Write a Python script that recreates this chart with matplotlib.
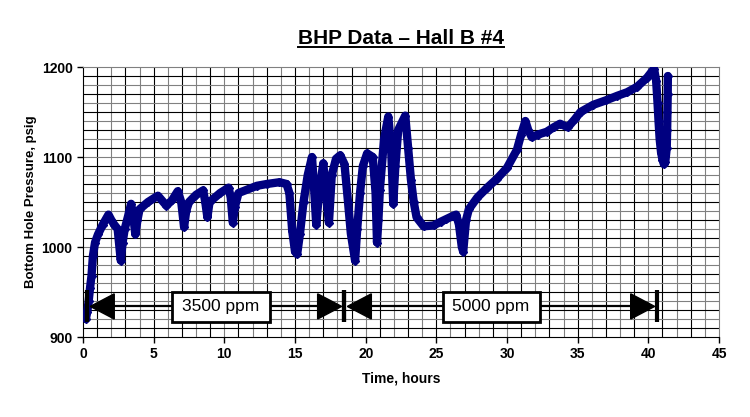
#!/usr/bin/env python
"""
Bottom hole pressure plot for Hall B #4.

Usage:
    python plot.py
"""

import matplotlib

matplotlib.use("Agg")
import matplotlib.pyplot as plt
from matplotlib.patches import Rectangle
import numpy as np

# Time (hours) and bottom hole pressure (psig)
hours = [
    0.1, 0.2, 0.3, 0.4, 0.5, 0.6, 0.7, 0.85, 1.06, 1.4, 1.8, 2.0, 2.2, 2.45,
    2.67, 2.8, 2.95, 3.2, 3.4, 3.55, 3.7, 3.85, 4.0, 4.6, 5.3, 5.9, 6.3, 6.7,
    6.95, 7.15, 7.3, 7.5, 8.0, 8.5, 8.65, 8.8, 8.95, 9.7, 10.3, 10.45, 10.6,
    10.75, 11.0, 12.3, 13.0, 13.9, 14.4, 14.6, 14.8, 15.0, 15.15, 15.35, 15.6,
    15.9, 16.2, 16.35, 16.5, 16.7, 17.0, 17.15, 17.4, 17.6, 17.9, 18.2, 18.5,
    18.75, 18.95, 19.25, 19.4, 19.6, 19.8, 20.1, 20.5, 20.7, 20.8, 20.9, 21.0,
    21.3, 21.6, 21.8, 21.95, 22.1, 22.3, 22.8, 23.0, 23.2, 23.4, 23.6, 24.1,
    24.8, 25.3, 25.7, 26.1, 26.4, 26.6, 26.8, 26.9, 27.1, 27.3, 27.9, 28.6,
    29.3, 30.0, 30.7, 31.0, 31.3, 31.5, 31.75, 32.2, 32.8, 33.3, 33.75, 34.3,
    34.8, 35.2, 36.1, 37.0, 37.8, 38.5, 39.2, 39.9, 40.4, 40.55, 40.65, 40.72,
    40.8, 40.9, 41.0, 41.1, 41.2, 41.3, 41.33, 41.35, 41.37, 41.38,
]
pressure = [
    925, 920, 928, 940, 955, 968, 990, 1005, 1014, 1025, 1036, 1030, 1025, 1020,
    985, 1005, 1020, 1035, 1048, 1035, 1014, 1030, 1042, 1050, 1057, 1046, 1052, 1062,
    1050, 1022, 1040, 1050, 1058, 1063, 1050, 1033, 1050, 1060, 1066, 1055, 1027,
    1045, 1060, 1068, 1070, 1072, 1070, 1060, 1018, 995, 992, 1015, 1050,
    1080, 1100, 1065, 1025, 1060, 1093, 1065, 1027, 1080, 1098, 1102, 1092,
    1050, 1015, 985, 1020, 1060, 1090, 1104, 1100, 1060, 1005, 1030, 1063,
    1120, 1145, 1110, 1048, 1090, 1130, 1146, 1110, 1075, 1050, 1033, 1023,
    1024, 1028, 1031, 1034, 1036, 1025, 1000, 995, 1030, 1042, 1055, 1066,
    1076, 1088, 1108, 1125, 1140, 1130, 1122, 1125, 1128, 1133, 1137, 1133,
    1142, 1150, 1158, 1163, 1168, 1172, 1178, 1188, 1198, 1185, 1160, 1140,
    1120, 1105, 1097, 1092, 1095, 1110, 1130, 1150, 1170, 1190,
]

# Polymer concentration periods and their label boxes
period_starts = [0.26, 18.45]
period_ends = [18.45, 40.6]
period_labels = ["3500 ppm", "5000 ppm"]
box_left = [6.3, 25.45]
box_right = [13.2, 32.3]
box_bottom = 917
box_top = 950
annot_level = 934

NAVY = "#000080"


def draw_grid(ax):
    """Hour / 10 psi grid, alternating black and gray lines."""
    xs = np.arange(1, 45)
    ax.vlines(xs, 900, 1200, colors=["#808080" if x % 2 == 0 else "black" for x in xs],
              lw=0.8, zorder=1)
    ys = np.arange(910, 1200, 10)
    ax.hlines(ys, 0, 45, colors=["#808080" if y % 20 == 0 else "black" for y in ys],
              lw=0.8, zorder=1)


def draw_periods(ax):
    """Arrows with boxed labels marking the two concentration periods."""
    head_len = 1.7
    head_half = 14
    y = annot_level
    for start, end, label, bl, br in zip(period_starts, period_ends, period_labels,
                                         box_left, box_right):
        for xb in (start, end):
            ax.plot([xb, xb], [y - 17, y + 18], color="black", lw=3, zorder=4,
                    solid_capstyle="butt")
        ls = start + 0.25
        le = end - 0.15
        # arrow shafts
        ax.plot([ls + head_len, bl], [y, y], color="black", lw=1.6, zorder=4)
        ax.plot([br, le - head_len], [y, y], color="black", lw=1.6, zorder=4)
        # arrow heads
        ax.fill([ls, ls + head_len, ls + head_len], [y, y + head_half, y - head_half],
                color="black", zorder=4)
        ax.fill([le, le - head_len, le - head_len], [y, y + head_half, y - head_half],
                color="black", zorder=4)
        ax.add_patch(Rectangle((bl, box_bottom), br - bl, box_top - box_bottom,
                               fc="white", ec="black", lw=2, zorder=5))
        ax.text((bl + br) / 2, (box_bottom + box_top) / 2, label, ha="center",
                va="center", fontsize=12.5, family="Liberation Sans", zorder=6)


def main():
    fig = plt.figure(figsize=(7.5, 4.17), dpi=100)
    ax = fig.add_axes([0.1107, 0.1918, 0.848, 0.6475])
    plt.rcParams["font.family"] = "Liberation Sans"

    draw_grid(ax)
    ax.plot(hours, pressure, "-", color=NAVY, lw=6, solid_joinstyle="round",
            solid_capstyle="round", zorder=3)
    ax.plot(hours, pressure, "D", color=NAVY, ms=4.5, zorder=3)
    draw_periods(ax)

    ax.set_xlim(0, 45)
    ax.set_ylim(900, 1200)
    ax.set_xticks(np.arange(0, 46, 5))
    ax.set_yticks([900, 1000, 1100, 1200])
    ax.tick_params(direction="out", length=4, width=1, labelsize=10)
    for lab in ax.get_xticklabels() + ax.get_yticklabels():
        lab.set_fontweight("bold")
        lab.set_family("Liberation Sans")
    for side in ("top", "right"):
        ax.spines[side].set_color("#808080")
    for side in ("left", "bottom"):
        ax.spines[side].set_color("black")

    ax.set_xlabel("Time, hours", fontsize=10, fontweight="bold", family="Liberation Sans",
                  labelpad=7)
    ax.set_ylabel("Bottom Hole Pressure, psig", fontsize=9.5, fontweight="bold",
                  family="Liberation Sans", labelpad=3)

    title = fig.text(0.534, 0.908, "BHP Data \u2013 Hall B #4", ha="center", va="center",
                     fontsize=15, fontweight="bold", family="Liberation Sans")
    # underline the title
    fig.canvas.draw()
    bb = title.get_window_extent().transformed(fig.transFigure.inverted())
    fig.add_artist(plt.Line2D([bb.x0, bb.x1], [bb.y0 + 0.002, bb.y0 + 0.002],
                              color="black", lw=1.4, transform=fig.transFigure))

    fig.savefig("out.png", dpi=100)


if __name__ == "__main__":
    main()
